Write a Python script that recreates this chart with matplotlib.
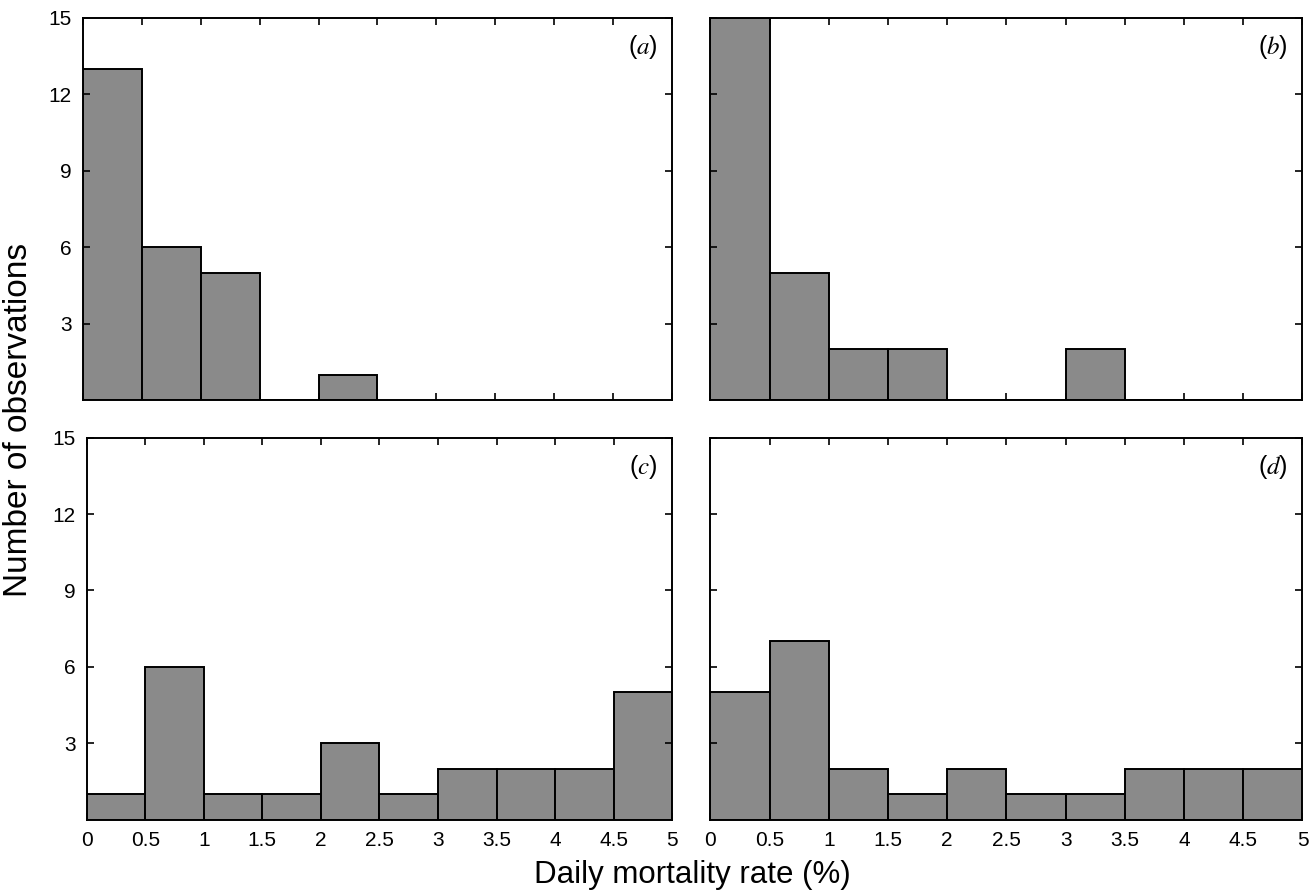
import matplotlib.pyplot as plt
import numpy as np

plt.rcParams['font.family'] = ['Liberation Sans', 'DejaVu Sans']
plt.rcParams['mathtext.fontset'] = 'stix'

# bin left edges (daily mortality rate, %) and counts per panel
bin_edges = [0, 0.5, 1, 1.5, 2, 2.5, 3, 3.5, 4, 4.5]
bin_width = 0.5
counts_a = [13, 6, 5, 0, 1]
counts_b = [15, 5, 2, 2, 0, 0, 2, 0, 0, 0]
counts_c = [1, 6, 1, 1, 3, 1, 2, 2, 2, 5]
counts_d = [5, 7, 2, 1, 2, 1, 1, 2, 2, 2]
panel_labels = ['a', 'b', 'c', 'd']

x_ticks = [0, 0.5, 1, 1.5, 2, 2.5, 3, 3.5, 4, 4.5, 5]
x_ticklabels = ['0', '0.5', '1', '1.5', '2', '2.5', '3', '3.5', '4', '4.5', '5']
y_ticks = [3, 6, 9, 12, 15]

fig = plt.figure(figsize=(13.13, 8.93), dpi=100)

# [left, bottom, width, height] in figure fractions
boxes = [
    [0.063, 0.552, 0.449, 0.428],
    [0.541, 0.552, 0.451, 0.428],
    [0.066, 0.082, 0.446, 0.428],
    [0.541, 0.082, 0.451, 0.428],
]
all_counts = [counts_a, counts_b, counts_c, counts_d]

for i, (box, counts, lab) in enumerate(zip(boxes, all_counts, panel_labels)):
    ax = fig.add_axes(box)
    ax.bar(bin_edges[:len(counts)], counts, width=bin_width, align='edge',
           color='#8a8a8a', edgecolor='black', linewidth=1.4)
    ax.set_xlim(0, 5)
    ax.set_ylim(0, 15)
    ax.set_xticks(x_ticks)
    ax.set_yticks(y_ticks)
    ax.tick_params(direction='in', top=True, right=True, length=5, width=1.2,
                   labelsize=15, pad=8)
    for s in ax.spines.values():
        s.set_linewidth(1.4)
    if i >= 2:
        ax.set_xticklabels(x_ticklabels)
    else:
        ax.set_xticklabels([])
    if i % 2 == 1:
        ax.set_yticklabels([])
    ax.text(0.975, 0.96, r'($\mathit{%s}$)' % lab, transform=ax.transAxes,
            ha='right', va='top', fontsize=18)

fig.text(0.527, 0.003, 'Daily mortality rate (%)', ha='center', va='bottom',
         fontsize=22.5)
fig.text(0.002, 0.53, 'Number of observations', ha='left', va='center',
         rotation=90, fontsize=24)

fig.savefig('out.png', dpi=100)
